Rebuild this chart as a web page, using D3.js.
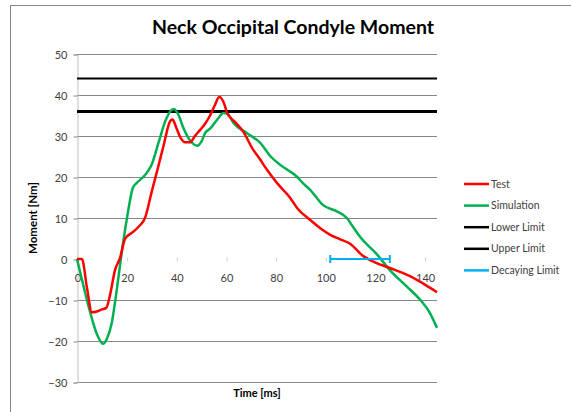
<!DOCTYPE html>
<html>
<head>
<meta charset="utf-8">
<script src="https://cdn.jsdelivr.net/npm/d3@7/dist/d3.min.js"></script>
<style>
  body { margin: 0; background: #fff; }
  text { font-family: Lato, "Open Sans", sans-serif; }
</style>
</head>
<body>
<div id="chart"></div>
<script>
// data
var testTime = [0, 2, 4, 6, 8, 10, 11.7, 13.3, 15.3, 17.3, 19.4, 22.6, 25, 27.4, 30, 32.5, 35, 37.5, 38.5, 40, 41.8, 43.5, 45.6, 47.5, 49.6, 51.6, 53.6, 55.5, 57.3, 59, 60.5, 63.5, 67, 71, 73.5, 76.6, 80.6, 85.9, 88.7, 94, 98, 102, 106, 110, 115.3, 120, 126, 133, 140, 145];
var testVal  = [0, 0, -7, -13, -12.8, -12.3, -12, -8.8, -2.7, 0.2, 5, 6.6, 8, 10, 16.2, 22, 28, 33.6, 34, 32, 29.5, 28.5, 28.5, 30, 31.5, 33, 35, 37.5, 39.5, 38.3, 35.6, 33.5, 31, 26.6, 24.5, 21.7, 18.5, 14.9, 12.4, 9.5, 7.5, 5.9, 4.8, 3.7, 0.7, -0.8, -2.2, -3.9, -6.2, -8.1];

var simTime = [0, 2, 4, 6, 8, 10.5, 12, 14, 16, 18, 20, 22.6, 24, 27.4, 30, 32.8, 35.5, 38, 39, 41, 42.7, 46.4, 48.4, 50, 51.6, 53.6, 56.5, 59, 61, 63, 68.5, 73.8, 78, 82, 88.7, 91, 94, 99, 105, 108.7, 111, 114, 121, 126, 133, 138.3, 142, 145];
var simVal  = [0, -5, -10, -14.5, -18.3, -20.7, -19.5, -15.6, -7.6, 1.5, 9.5, 17.5, 18.5, 20.5, 22.9, 28.3, 33.5, 36.3, 36.6, 35, 32.2, 28.3, 27.6, 28.5, 30.7, 31.8, 34, 35.6, 35.2, 33.2, 30.7, 28.3, 25, 22.9, 20, 18.5, 16.8, 13.2, 11.5, 10, 8, 5.4, 1, -2.7, -6.8, -10, -13, -16.8];

var lowerLimit = 36;
var upperLimit = 44;
var decayStart = 102, decayEnd = 126, decayVal = 0;

var xTicks = [0, 20, 40, 60, 80, 100, 120, 140];
var yTicks = [-30, -20, -10, 0, 10, 20, 30, 40, 50];

var legendNames = ["Test", "Simulation", "Lower Limit", "Upper Limit", "Decaying Limit"];
var legendColors = ["#ff0000", "#00b050", "#000000", "#000000", "#00b0f0"];

var width = 571, height = 412;

var x = d3.scaleLinear().domain([0, 145]).range([77, 437]);
var y = d3.scaleLinear().domain([-30, 50]).range([382, 54]);

var svg = d3.select("#chart").append("svg")
  .attr("width", width)
  .attr("height", height);

// chart border
svg.append("rect")
  .attr("x", 10.5).attr("y", 5.5)
  .attr("width", 600).attr("height", 450)
  .attr("fill", "none")
  .attr("stroke", "#868686");

svg.append("text")
  .attr("x", 293).attr("y", 34)
  .attr("text-anchor", "middle")
  .attr("font-size", 19.5)
  .attr("font-weight", "bold")
  .attr("fill", "#000")
  .text("Neck Occipital Condyle Moment");

// gridlines (none at 0, the axis covers it)
svg.append("g").selectAll("line")
  .data(yTicks.filter(d => d !== 0)).enter()
  .append("line")
  .attr("x1", x(0)).attr("x2", x(145))
  .attr("y1", d => Math.round(y(d)) + 0.5)
  .attr("y2", d => Math.round(y(d)) + 0.5)
  .attr("stroke", "#868686");

// y axis
var yAxis = d3.axisLeft(y).tickValues(yTicks).tickSize(4).tickPadding(6);
var gy = svg.append("g")
  .attr("transform", "translate(" + (x(0) + 0.5) + ",0.5)")
  .call(yAxis);
gy.select(".domain").attr("stroke", "#bfbfbf");
gy.selectAll(".tick line").attr("stroke", "#868686");
gy.selectAll(".tick text")
  .attr("font-size", 11)
  .attr("fill", "#404040")
  .attr("font-family", "Lato, sans-serif");

// x axis along y = 0
var xAxis = d3.axisBottom(x).tickValues(xTicks).tickSize(-4).tickPadding(13);
var gx = svg.append("g")
  .attr("transform", "translate(0.5," + (Math.round(y(0)) + 2.5) + ")")
  .call(xAxis);
gx.select(".domain").remove();
gx.selectAll(".tick line").attr("stroke", "#d0d0d0");
gx.selectAll(".tick text")
  .attr("font-size", 11)
  .attr("fill", "#404040")
  .attr("font-family", "Lato, sans-serif");

// axis titles
svg.append("text")
  .attr("transform", "translate(37," + ((y(-30) + y(50)) / 2) + ") rotate(-90)")
  .attr("text-anchor", "middle")
  .attr("font-size", 11.5)
  .attr("font-weight", "bold")
  .text("Moment [Nm]");

svg.append("text")
  .attr("x", (x(0) + x(145)) / 2).attr("y", 397)
  .attr("text-anchor", "middle")
  .attr("font-size", 11)
  .attr("font-weight", "bold")
  .text("Time [ms]");

// limit lines
svg.append("line")
  .attr("x1", x(0)).attr("x2", x(145))
  .attr("y1", y(upperLimit)).attr("y2", y(upperLimit))
  .attr("stroke", "#000").attr("stroke-width", 2);

svg.append("line")
  .attr("x1", x(0)).attr("x2", x(145))
  .attr("y1", y(lowerLimit)).attr("y2", y(lowerLimit))
  .attr("stroke", "#000").attr("stroke-width", 3);

var line = d3.line()
  .curve(d3.curveMonotoneX)
  .x(d => x(d[0]))
  .y(d => y(d[1]));

var simData = d3.zip(simTime, simVal);
var testData = d3.zip(testTime, testVal);

svg.append("path")
  .attr("d", line(simData))
  .attr("fill", "none")
  .attr("stroke", "#00b050")
  .attr("stroke-width", 2.5);

svg.append("path")
  .attr("d", line(testData))
  .attr("fill", "none")
  .attr("stroke", "#ff0000")
  .attr("stroke-width", 2.5);

// decaying limit with end caps
var decay = svg.append("g").attr("stroke", "#00b0f0").attr("stroke-width", 2);
decay.append("line")
  .attr("x1", x(decayStart)).attr("x2", x(decayEnd))
  .attr("y1", y(decayVal)).attr("y2", y(decayVal));
[decayStart, decayEnd].forEach(function(t) {
  decay.append("line")
    .attr("x1", x(t)).attr("x2", x(t))
    .attr("y1", y(decayVal) - 4).attr("y2", y(decayVal) + 4);
});

// legend
var legend = svg.append("g").selectAll("g")
  .data(legendNames).enter()
  .append("g")
  .attr("transform", (d, i) => "translate(464," + (184 + i * 21.6) + ")");

legend.append("line")
  .attr("x1", 0).attr("x2", 25)
  .attr("stroke", (d, i) => legendColors[i])
  .attr("stroke-width", 2.5);

legend.append("text")
  .attr("x", 27).attr("y", 3.5)
  .attr("font-size", 10.5)
  .attr("fill", "#404040")
  .text(d => d);
</script>
</body>
</html>
